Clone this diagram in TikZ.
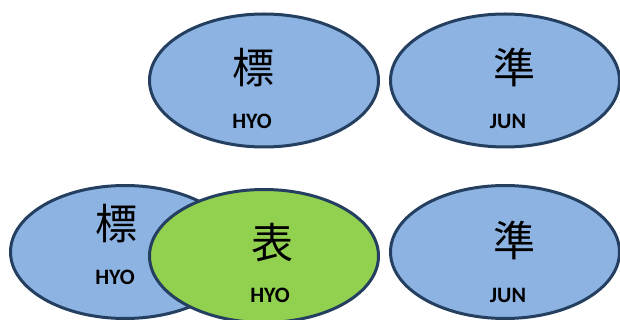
\documentclass[tikz,border=0pt]{standalone}
\usepackage{fontspec}
\setmainfont{Carlito}
\newfontfamily\cjk{Noto Sans CJK JP}
\usetikzlibrary{shapes.geometric}
\definecolor{bluefill}{RGB}{141,179,226}
\definecolor{greenfill}{RGB}{146,208,80}
\definecolor{edge}{RGB}{36,63,96}
\tikzset{
  oval/.style={ellipse, draw=edge, line width=3pt, minimum width=229pt, minimum height=133pt, inner sep=0pt},
  bluov/.style={oval, fill=bluefill},
  grnov/.style={oval, fill=greenfill},
  kanji/.style={font=\cjk\fontsize{42}{42}\selectfont, inner sep=0pt},
  roma/.style={font=\bfseries\fontsize{22}{22}\selectfont, inner sep=0pt}
}
\begin{document}
\begin{tikzpicture}[x=1pt,y=-1pt]
\useasboundingbox (0,0) rectangle (620,320);
% top row
\node[bluov] (e1) at (264,80.5) {};
\node[bluov] (e2) at (505,80.5) {};
\node[kanji] (k1) at (253,68) {標};
\node[roma] (r1) at (252,121) {HYO};
\node[kanji] (k2) at (514,67) {準};
\node[roma] (r2) at (508,121) {JUN};
% bottom row
\node[bluov] (e3) at (125,252) {};
\node[grnov] (e4) at (264,256) {};
\node[bluov] (e5) at (505,252) {};
\node[kanji] (k3) at (116,224) {標};
\node[roma] (r3) at (115,277) {HYO};
\node[kanji] (k4) at (272,243) {表};
\node[roma] (r4) at (270,295) {HYO};
\node[kanji] (k5) at (514,240) {準};
\node[roma] (r5) at (508,295) {JUN};
\end{tikzpicture}
\end{document}
